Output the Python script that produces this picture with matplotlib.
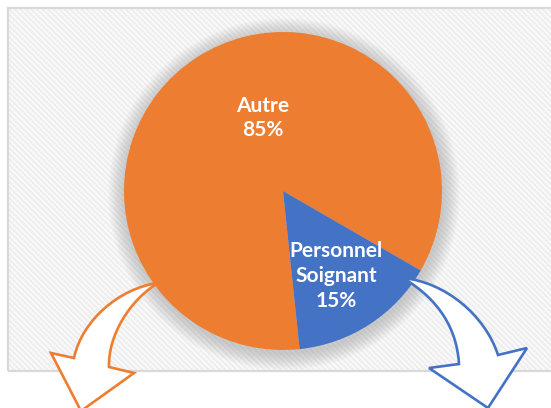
import matplotlib
matplotlib.use("Agg")
import matplotlib.pyplot as plt
from matplotlib.patches import Rectangle, Circle, PathPatch
from matplotlib.path import Path

# ---- data ----
categories = ["Autre", "Personnel\nSoignant"]
values = [85, 15]
colors = ["#ED7D31", "#4472C4"]
pct_labels = ["85%", "15%"]

W, H = 551, 408
plt.rcParams['hatch.linewidth'] = 2.0

fig = plt.figure(figsize=(W / 100, H / 100), dpi=100)
ax = fig.add_axes([0, 0, 1, 1])

def py(y):
    return H - y

# background box with hatch
ax.add_patch(Rectangle((8, py(371)), W + 10, 371 - 8, facecolor='white',
                       edgecolor='#efefef', linewidth=0, hatch='\\' * 6,
                       zorder=0))
ax.add_patch(Rectangle((8, py(371)), W + 10, 371 - 8, facecolor='none',
                       edgecolor='#d9d9d9', linewidth=1.6, zorder=0.5))

cx, cy, R = 283, py(191), 159

# soft shadow
for k in range(1, 18):
    ax.add_patch(Circle((cx + 1, cy - 3), R + k, facecolor='#808080',
                        edgecolor='none', alpha=0.022, zorder=1))

wedges, _ = ax.pie(values, colors=colors, startangle=-30, counterclock=True,
                   center=(cx, cy), radius=R,
                   wedgeprops=dict(linewidth=0, zorder=2))
for w in wedges:
    w.set_zorder(2)

# labels
label_pos = [(263, 118), (336, 276)]
for cat, pct, (lx, ly) in zip(categories, pct_labels, label_pos):
    ax.text(lx, py(ly), f"{cat}\n{pct}", ha='center', va='center',
            color='white', fontsize=15, fontweight='bold', family='Lato',
            linespacing=1.3, zorder=5)

# curved arrows (decorative)
def arrow(pts, color):
    codes = [Path.MOVETO, Path.CURVE4, Path.CURVE4, Path.CURVE4,
             Path.LINETO, Path.LINETO, Path.LINETO, Path.LINETO,
             Path.CURVE4, Path.CURVE4, Path.CURVE4, Path.CLOSEPOLY]
    verts = [(x, py(y)) for x, y in pts] + [(pts[0][0], py(pts[0][1]))]
    ax.add_patch(PathPatch(Path(verts, codes), facecolor='white',
                           edgecolor=color, linewidth=1.9, zorder=4,
                           joinstyle='miter'))

left_pts = [(158, 283), (120, 288), (82, 320), (74, 358),
            (51, 353), (81, 411), (134, 373), (109, 367),
            (108, 335), (130, 300), (158, 283)]
right_pts = [(403, 278), (445, 282), (485, 315), (498, 355),
             (527, 348), (488, 408), (429, 368), (459, 364),
             (457, 330), (440, 300), (403, 278)]
arrow(left_pts, "#ED7D31")
arrow(right_pts, "#4472C4")

ax.set_xlim(0, W)
ax.set_ylim(0, H)
ax.set_aspect('auto')
ax.axis('off')
fig.savefig("out.png", dpi=100)
